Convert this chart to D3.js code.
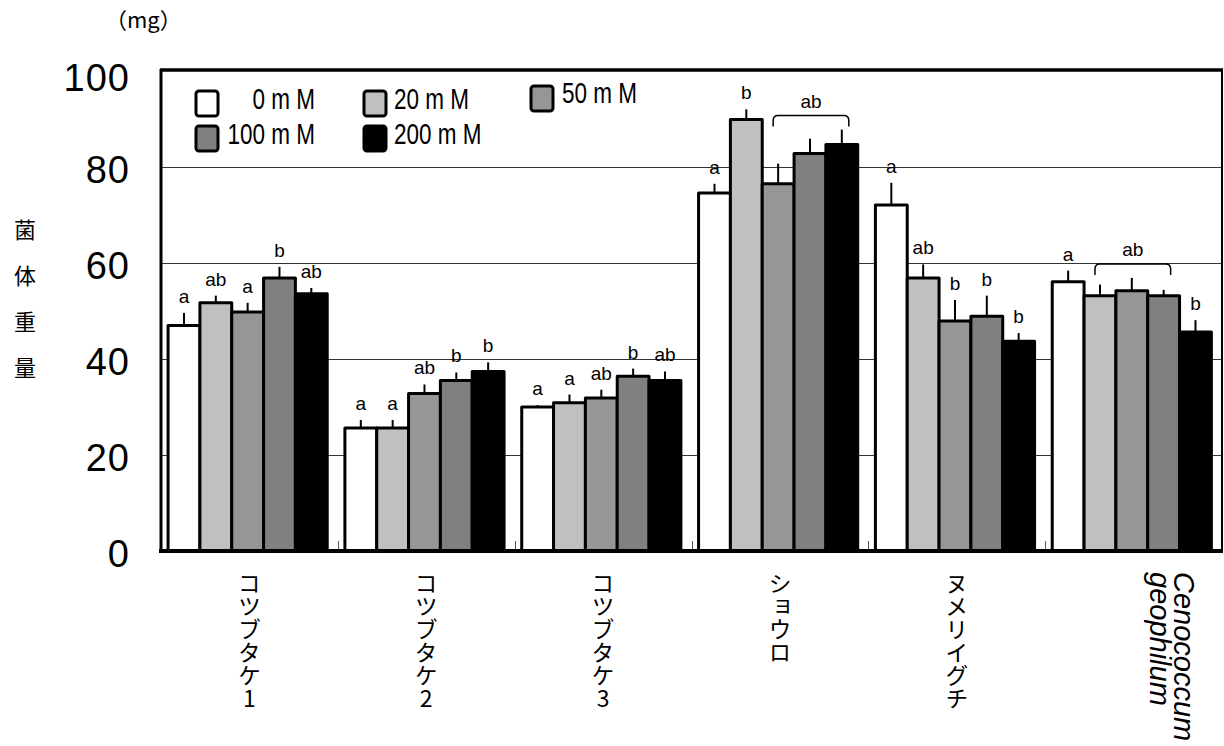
<!DOCTYPE html>
<html>
<script src="https://d3js.org/d3.v7.min.js"></script>
<style>
    body {
        margin: 0;
        background: #fff;
    }

    text {
        font-family: "Liberation Sans", Arial, sans-serif;
        fill: #000;
    }

    .jp {
        font-family: "Noto Sans CJK JP", sans-serif;
    }

    .leg {
        font-size: 30px;
    }

    .vert {
        writing-mode: vertical-rl;
        text-orientation: upright;
    }
</style>

<body>
</body>
<script>
    const width = 1224,
        height = 746;

    const categories = ["コツブタケ1", "コツブタケ2", "コツブタケ3", "ショウロ", "ヌメリイグチ", "Cenococcum geophilum"];
    const treatments = ["0 m M", "20 m M", "50 m M", "100 m M", "200 m M"];
    const fills = ["#ffffff", "#c0c0c0", "#969696", "#808080", "#000000"];

    // mean fungal weight (mg), one array per treatment
    const mean0 = [47.0, 25.6, 30.0, 74.6, 72.1, 56.1];
    const mean20 = [51.7, 25.6, 30.9, 89.9, 56.9, 53.2];
    const mean50 = [49.8, 32.8, 31.9, 76.5, 47.9, 54.2];
    const mean100 = [56.9, 35.5, 36.4, 82.8, 48.9, 53.2];
    const mean200 = [53.6, 37.4, 35.5, 84.7, 43.7, 45.6];

    // upper error bars
    const err0 = [2.6, 1.7, 0.4, 1.9, 4.6, 2.3];
    const err20 = [1.5, 1.7, 1.7, 2.1, 2.8, 2.3];
    const err50 = [1.9, 1.9, 1.7, 4.2, 4.4, 2.7];
    const err100 = [2.3, 1.7, 1.6, 3.1, 4.3, 1.2];
    const err200 = [1.2, 1.9, 1.9, 3.1, 1.7, 2.5];

    // significance letters
    const sig0 = ["a", "a", "a", "a", "a", "a"];
    const sig20 = ["ab", "a", "a", "b", "ab", ""];
    const sig50 = ["a", "ab", "ab", "", "b", ""];
    const sig100 = ["b", "b", "b", "", "b", ""];
    const sig200 = ["ab", "b", "ab", "", "b", "b"];

    // brackets: group, first bar, last bar, letter
    const brackets = [
        [3, 2, 4, "ab"],
        [5, 1, 3, "ab"]
    ];

    const yTicks = [0, 20, 40, 60, 80, 100];

    const means = [mean0, mean20, mean50, mean100, mean200];
    const errs = [err0, err20, err50, err100, err200];
    const sigs = [sig0, sig20, sig50, sig100, sig200];

    const bars = [];
    categories.forEach((c, gi) => {
        treatments.forEach((t, ti) => {
            bars.push({
                cat: c,
                t: t,
                ti: ti,
                v: means[ti][gi],
                e: errs[ti][gi],
                s: sigs[ti][gi]
            });
        });
    });

    const svg = d3.select("body").append("svg").attr("width", width).attr("height", height);

    const pLeft = 161,
        pRight = 1222,
        pTop = 71,
        pBottom = 551;

    const x = d3.scaleBand().domain(categories).range([pLeft, pRight]).padding(0);
    const bw = x.bandwidth();
    const xi = d3.scaleBand().domain(treatments).range([bw * 0.04, bw * 0.94]).padding(0);
    const y = d3.scaleLinear().domain([0, 100]).range([pBottom, pTop]);

    // gridlines
    svg.selectAll(".grid")
        .data(yTicks.filter(d => d > 0 && d < 100))
        .join("line")
        .attr("x1", pLeft).attr("x2", pRight)
        .attr("y1", d => Math.round(y(d)) + 0.5).attr("y2", d => Math.round(y(d)) + 0.5)
        .attr("stroke", "#333").attr("stroke-width", 1);

    // category boundary ticks
    svg.selectAll(".ctick")
        .data(categories.slice(1))
        .join("line")
        .attr("x1", d => Math.round(x(d)) + 0.5).attr("x2", d => Math.round(x(d)) + 0.5)
        .attr("y1", pBottom - 10).attr("y2", pBottom)
        .attr("stroke", "#555").attr("stroke-width", 1);

    // bars
    const g = svg.append("g");
    g.selectAll("rect")
        .data(bars)
        .join("rect")
        .attr("x", d => x(d.cat) + xi(d.t))
        .attr("y", d => y(d.v))
        .attr("width", xi.bandwidth())
        .attr("height", d => y(0) - y(d.v))
        .attr("fill", d => fills[d.ti])
        .attr("stroke", "#000")
        .attr("stroke-width", 3)
        .attr("stroke-linejoin", "round");

    // error bars
    g.selectAll(".err")
        .data(bars)
        .join("line")
        .attr("x1", d => x(d.cat) + xi(d.t) + xi.bandwidth() / 2)
        .attr("x2", d => x(d.cat) + xi(d.t) + xi.bandwidth() / 2)
        .attr("y1", d => y(d.v))
        .attr("y2", d => y(d.v + d.e))
        .attr("stroke", "#000")
        .attr("stroke-width", 2);

    // letters
    g.selectAll(".sig")
        .data(bars.filter(d => d.s))
        .join("text")
        .attr("x", d => x(d.cat) + xi(d.t) + xi.bandwidth() / 2)
        .attr("y", d => y(d.v + d.e) - 10)
        .attr("text-anchor", "middle")
        .attr("font-size", 19)
        .text(d => d.s);

    // brackets
    brackets.forEach(([gi, a, b, lab]) => {
        const cat = categories[gi];
        const x1 = x(cat) + xi(treatments[a]) + xi.bandwidth() / 2 - 5;
        const x2 = x(cat) + xi(treatments[b]) + xi.bandwidth() / 2 + 7;
        let topVal = 0;
        for (let i = a; i <= b; i++) topVal = Math.max(topVal, means[i][gi] + errs[i][gi]);
        const yb = y(topVal) - 14;
        const r = 5;
        svg.append("path")
            .attr("d", `M${x1},${yb + 11}V${yb + r}Q${x1},${yb} ${x1 + r},${yb}H${x2 - r}Q${x2},${yb} ${x2},${yb + r}V${yb + 11}`)
            .attr("fill", "none")
            .attr("stroke", "#000")
            .attr("stroke-width", 1.5);
        svg.append("text")
            .attr("x", (x1 + x2) / 2)
            .attr("y", yb - 8)
            .attr("text-anchor", "middle")
            .attr("font-size", 19)
            .text(lab);
    });

    // frame
    svg.append("line").attr("x1", pLeft - 1).attr("x2", pRight + 1).attr("y1", pTop - 1).attr("y2", pTop - 1)
        .attr("stroke", "#000").attr("stroke-width", 3.5);
    svg.append("line").attr("x1", pLeft).attr("x2", pLeft).attr("y1", pTop - 2).attr("y2", pBottom)
        .attr("stroke", "#000").attr("stroke-width", 3);
    svg.append("line").attr("x1", pRight).attr("x2", pRight).attr("y1", pTop - 2).attr("y2", pBottom)
        .attr("stroke", "#000").attr("stroke-width", 2);
    svg.append("line").attr("x1", pLeft - 2).attr("x2", pRight + 1).attr("y1", pBottom).attr("y2", pBottom)
        .attr("stroke", "#000").attr("stroke-width", 4);

    // y axis labels
    svg.selectAll(".ylab")
        .data(yTicks)
        .join("text")
        .attr("x", 130)
        .attr("y", d => y(d) + (d === 100 ? 6 : 2))
        .attr("dy", "0.36em")
        .attr("text-anchor", "end")
        .attr("font-size", 38)
        .attr("letter-spacing", 1)
        .text(d => d);

    svg.append("text").attr("class", "jp")
        .attr("x", 105).attr("y", 28)
        .attr("font-size", 22)
        .text("（mg）");

    const yTitle = "菌体重量";
    svg.selectAll(".ytitle")
        .data(yTitle.split(""))
        .join("text")
        .attr("class", "jp")
        .attr("x", 25)
        .attr("y", (d, i) => 238 + i * 46)
        .attr("text-anchor", "middle")
        .attr("font-size", 22)
        .text(d => d);

    // x labels
    categories.forEach((c, gi) => {
        const cx = x(c) + bw / 2;
        if (/^[A-Za-z]/.test(c)) {
            const words = c.split(" ");
            words.forEach((w, wi) => {
                svg.append("text")
                    .attr("transform", `translate(${cx + 40 - wi * 24},572) rotate(90)`)
                    .attr("font-size", 29)
                    .attr("font-style", "italic")
                    .text(w);
            });
        } else {
            svg.append("text")
                .attr("class", "jp vert")
                .attr("x", cx)
                .attr("y", 572)
                .attr("font-size", 23)
                .text(c);
        }
    });

    // legend
    const legPos = [
        [196, 91, 315, "end", 109],
        [364, 91, 394, "start", 109],
        [531, 86, 562, "start", 103],
        [196, 126, 315, "end", 144],
        [364, 126, 394, "start", 144]
    ];
    treatments.forEach((t, i) => {
        const [sx, sy, tx, anchor, ty] = legPos[i];
        svg.append("rect")
            .attr("x", sx).attr("y", sy)
            .attr("width", 22).attr("height", 25)
            .attr("rx", 3)
            .attr("fill", fills[i])
            .attr("stroke", "#000")
            .attr("stroke-width", 3);
        svg.append("text")
            .attr("class", "leg")
            .attr("transform", `translate(${tx},${ty}) scale(0.75,1)`)
            .attr("text-anchor", anchor)
            .text(t);
    });
</script>

</html>
